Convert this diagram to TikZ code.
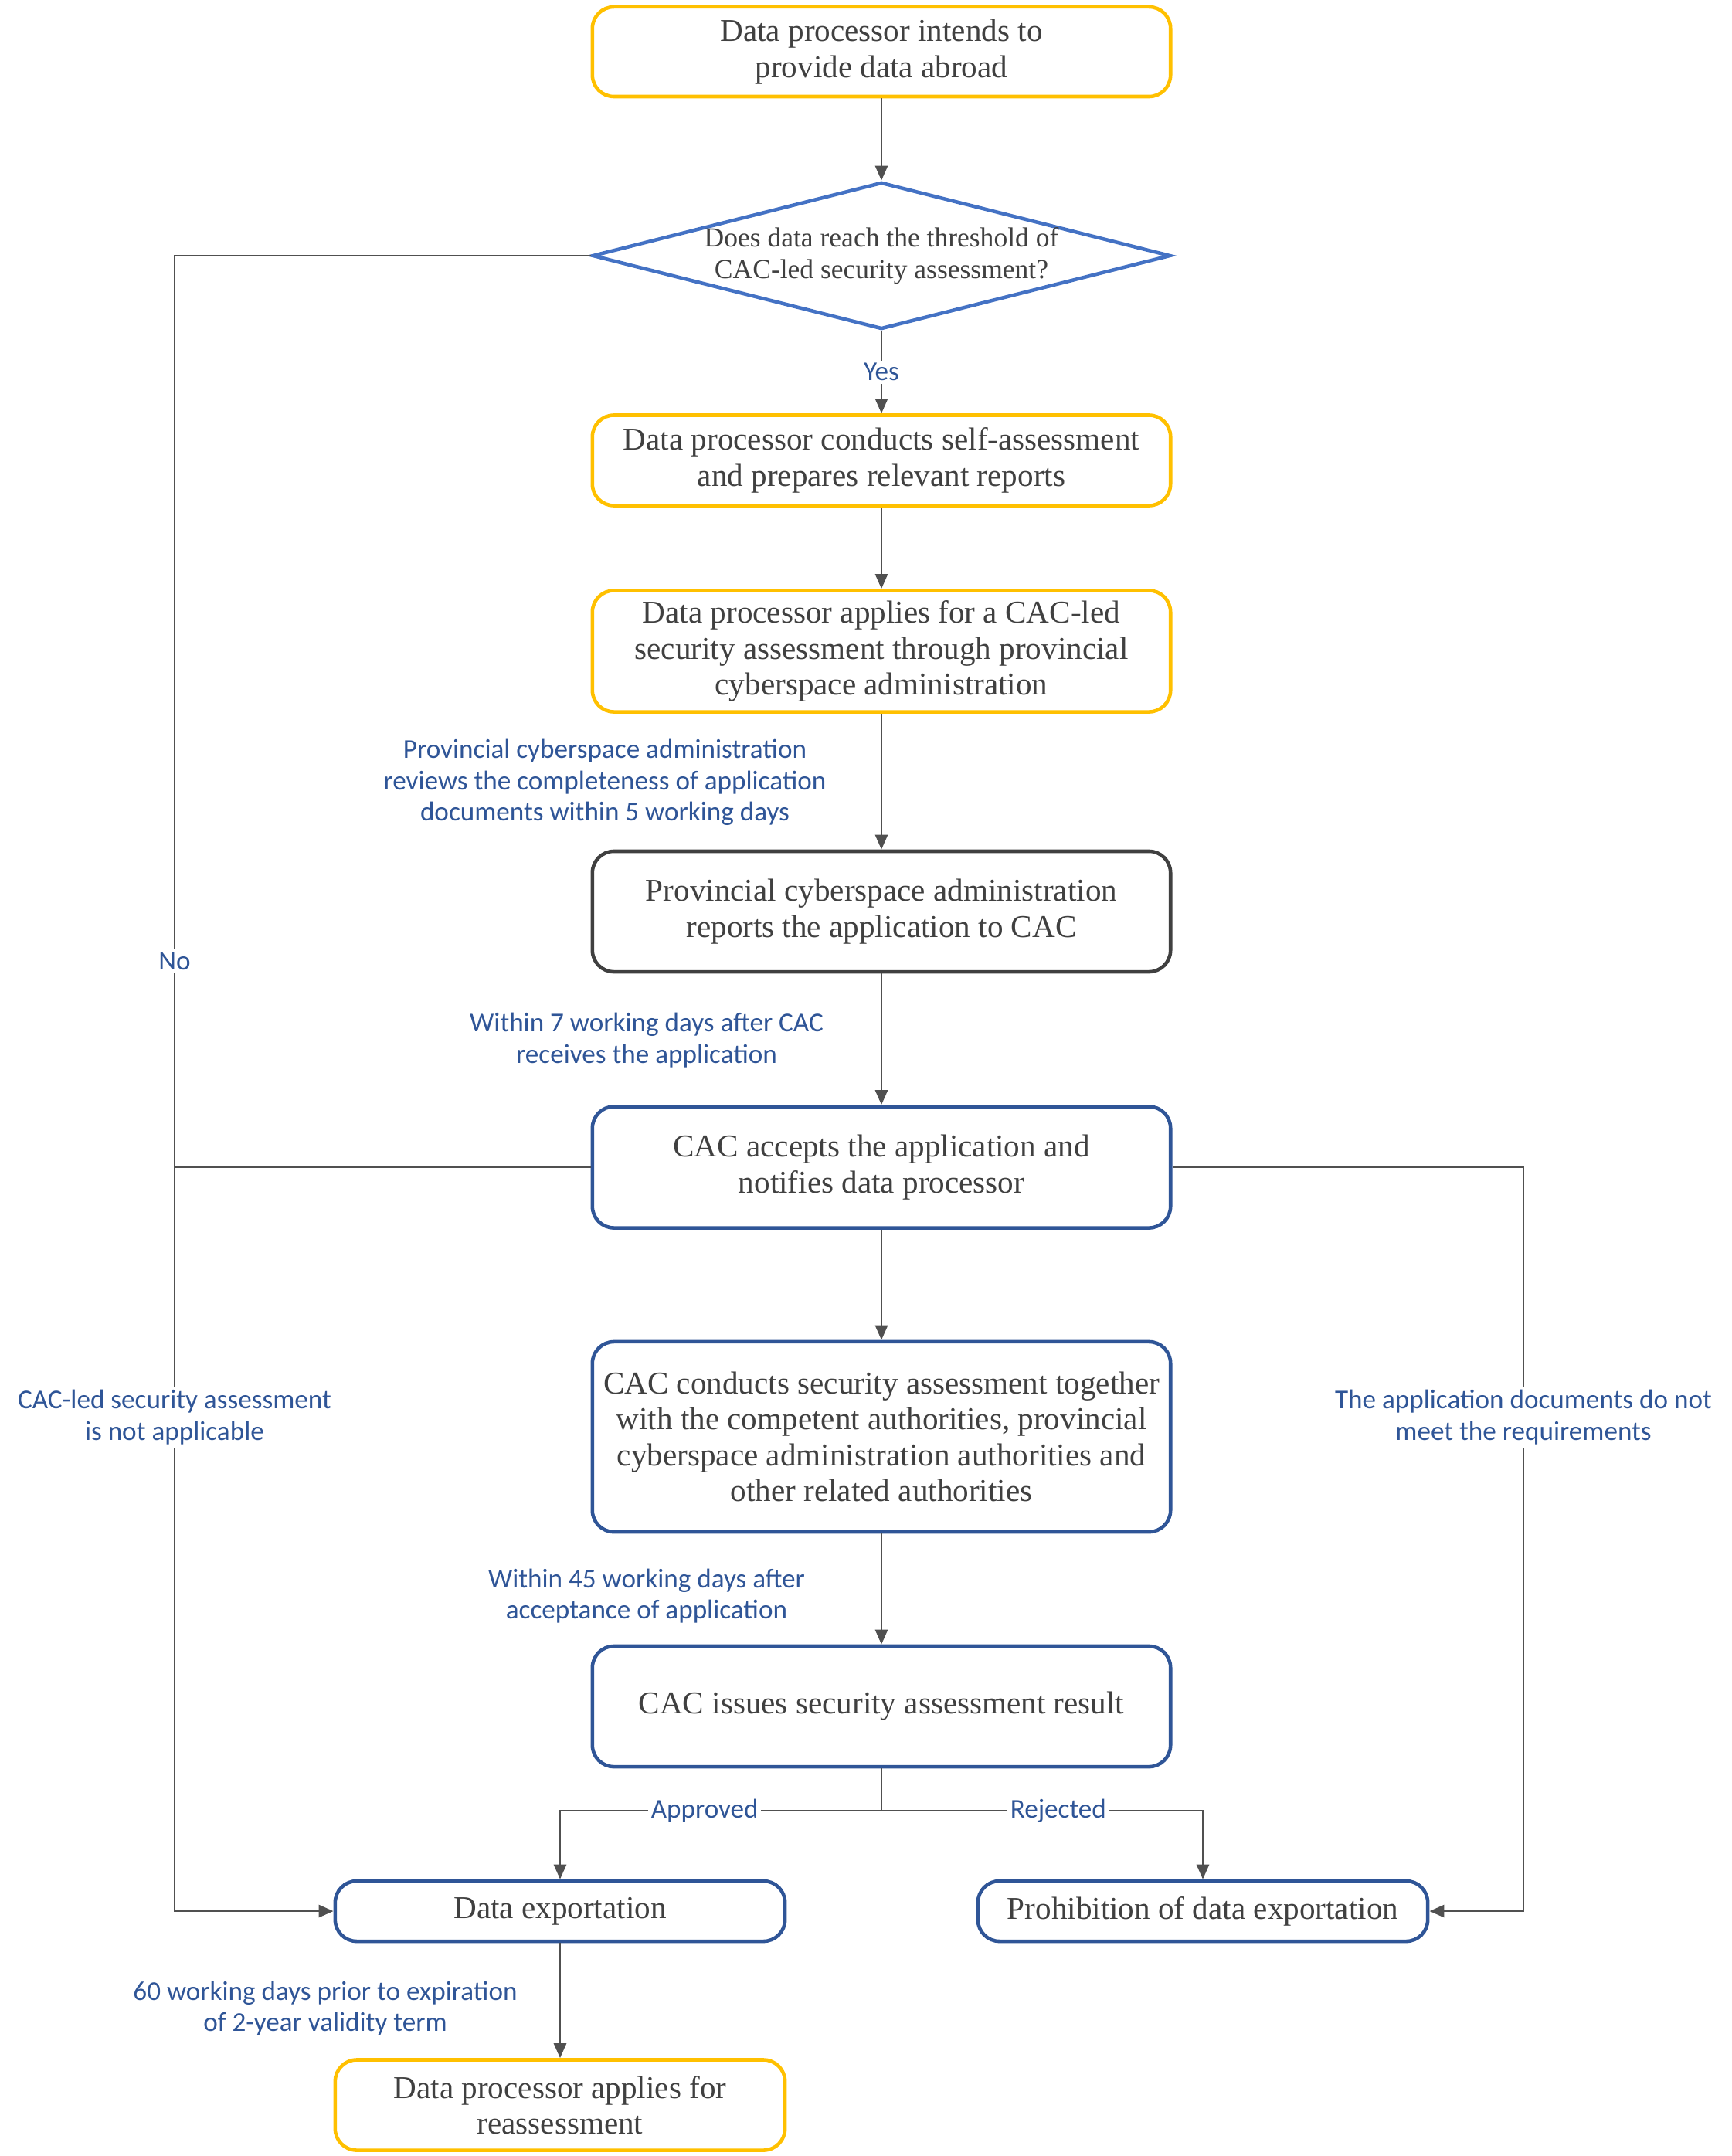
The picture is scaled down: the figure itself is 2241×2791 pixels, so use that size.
\documentclass[tikz,border=0pt]{standalone}
\usepackage{fontspec}
\setmainfont{Liberation Serif}
\newfontfamily\labfont{Carlito}
\usetikzlibrary{shapes.geometric,arrows.meta}
\definecolor{goldc}{HTML}{FFC000}
\definecolor{bluec}{HTML}{4472C4}
\definecolor{dbluec}{HTML}{2F5597}
\definecolor{txtc}{HTML}{404040}
\definecolor{linec}{HTML}{505050}
\definecolor{labc}{HTML}{2F5597}
\begin{document}
\begin{tikzpicture}[x=0.01cm,y=-0.01cm,
  box/.style={rectangle,rounded corners=0.28cm,line width=1.3pt,text=txtc,align=center,
    minimum width=7.48cm,inner sep=2pt,font=\fontsize{11.7}{13.2}\selectfont},
  ybox/.style={box,draw=goldc},
  bbox/.style={box,draw=dbluec},
  gbox/.style={box,draw=txtc},
  sbox/.style={box,minimum width=5.82cm},
  dec/.style={diamond,draw=bluec,line width=1.3pt,shape aspect=3.94,inner sep=0pt,
    minimum width=7.48cm,minimum height=1.9cm,
    text=txtc,align=center,font=\fontsize{10.1}{11.6}\selectfont},
  conn/.style={draw=linec,line width=0.8pt},
  arr/.style={conn,-{Triangle[length=0.19cm,width=0.16cm]}},
  lab/.style={text=labc,align=center,font=\labfont\fontsize{10}{11.6}\selectfont,inner sep=1pt},
  wlab/.style={lab,fill=white}
]
\useasboundingbox (0,0) rectangle (2241,2791);

\node[ybox,minimum height=1.16cm] (top) at (1141,67) {Data processor intends to\\provide data abroad};
\node[dec] (dia) at (1141,331) {Does data reach the threshold of\\CAC-led security assessment?};
\node[ybox,minimum height=1.17cm] (b3) at (1141,596) {Data processor conducts self-assessment\\and prepares relevant reports};
\node[ybox,minimum height=1.57cm] (b4) at (1141,843) {Data processor applies for a CAC-led\\security assessment through provincial\\cyberspace administration};
\node[gbox,minimum height=1.56cm] (b5) at (1141,1180) {Provincial cyberspace administration\\reports the application to CAC};
\node[bbox,minimum height=1.57cm] (b6) at (1141,1511) {CAC accepts the application and\\notifies data processor};
\node[bbox,minimum height=2.46cm] (b7) at (1141,1860) {CAC conducts security assessment together\\with the competent authorities, provincial\\cyberspace administration authorities and\\other related authorities};
\node[bbox,minimum height=1.56cm] (b8) at (1141,2209) {CAC issues security assessment result};
\node[bbox,sbox,minimum height=0.78cm] (exp) at (725,2474) {Data exportation};
\node[bbox,sbox,minimum height=0.78cm] (pro) at (1557,2474) {Prohibition of data exportation};
\node[ybox,sbox,minimum height=1.17cm] (re) at (725,2725) {Data processor applies for\\reassessment};

\coordinate (split) at (1141,2344);
\coordinate (lefttop) at (226,331);
\coordinate (leftbot) at (226,2474);
\coordinate (leftmid) at (226,1511);
\coordinate (righttop) at (1972,1511);
\coordinate (rightbot) at (1972,2474);

\draw[arr] (top) -- (dia);
\draw[arr] (dia) -- node[wlab] {Yes} (b3);
\draw[arr] (b3) -- (b4);
\draw[arr] (b4) -- (b5);
\draw[arr] (b5) -- (b6);
\draw[arr] (b6) -- (b7);
\draw[arr] (b7) -- (b8);
\draw[conn] (b8) -- (split);
\draw[arr] (split) -- node[wlab,pos=0.55] {Approved} (split -| exp) -- (exp);
\draw[arr] (split) -- node[wlab,pos=0.55] {Rejected} (split -| pro) -- (pro);
\draw[arr] (exp) -- (re);

\draw[arr] (dia.west) -- (lefttop) -- (leftbot) -- (exp.west);
\draw[conn] (b6.west) -- (leftmid);
\draw[arr] (b6.east) -- (righttop) -- (rightbot) -- (pro.east);

\node[wlab] (lno) at (226,1244) {No};
\node[wlab] (lna) at (226,1835) {CAC-led security assessment\\is not applicable};
\node[wlab] (lreq) at (1972,1835) {The application documents do not\\meet the requirements};
\node[lab] (l5) at (783,1013) {Provincial cyberspace administration\\reviews the completeness of application\\documents within 5 working days};
\node[lab] (l7) at (837,1347) {Within 7 working days after CAC\\receives the application};
\node[lab] (l45) at (837,2066) {Within 45 working days after\\acceptance of application};
\node[lab] (l60) at (421,2600) {60 working days prior to expiration\\of 2-year validity term};
\end{tikzpicture}
\end{document}
